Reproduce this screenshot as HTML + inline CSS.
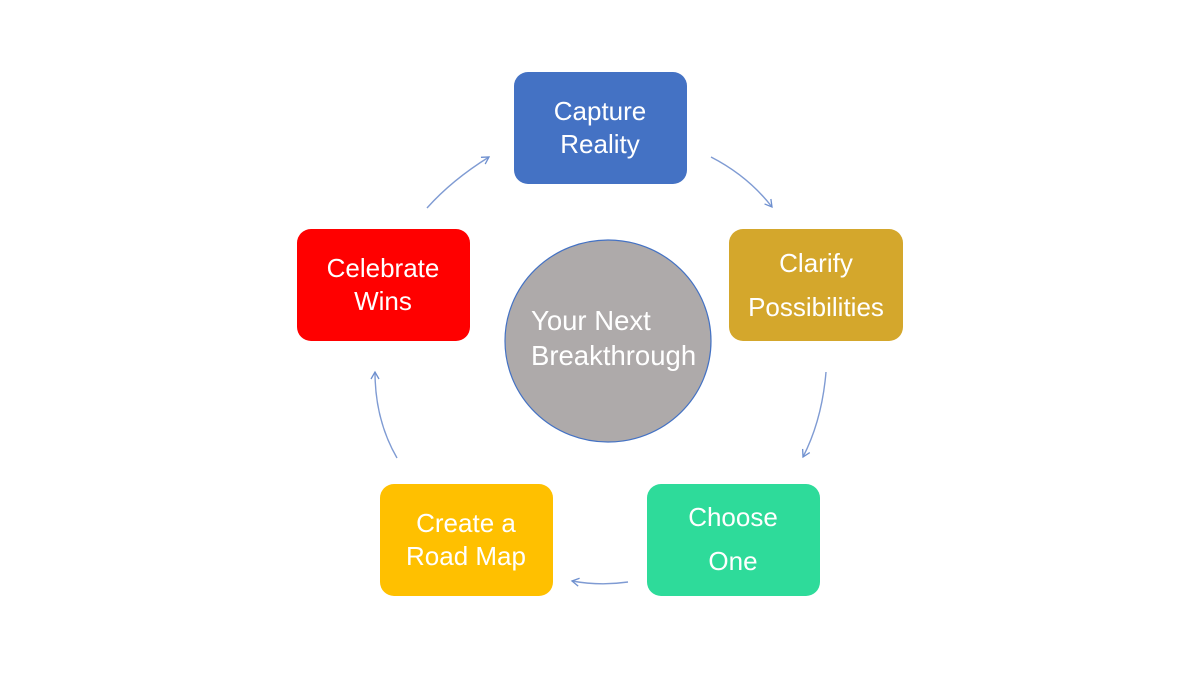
<!DOCTYPE html>
<html><head><style>
html,body{margin:0;padding:0;background:#fff;}
svg{display:block;}
text{font-family:"Liberation Sans",sans-serif;fill:#fff;font-size:26px;}
</style></head><body>
<svg width="1200" height="675" viewBox="0 0 1200 675" xmlns="http://www.w3.org/2000/svg">
<defs>
<marker id="a" markerWidth="10" markerHeight="10" refX="8" refY="5" orient="auto" markerUnits="userSpaceOnUse">
<path d="M1,1 L8,5 L1,9" fill="none" stroke="#6d8fcf" stroke-width="1.3"/>
</marker>
</defs>
<g fill="none" stroke="#7f9bd3" stroke-width="1.4" marker-end="url(#a)">
<path d="M711,157 Q748,176 772,207"/>
<path d="M826,372 Q822,420 803,457"/>
<path d="M628,582 Q600,586 572,581"/>
<path d="M397,458 Q375,420 375,372"/>
<path d="M427,208 Q452,180 489,157"/>
</g>
<rect x="514" y="72" width="173" height="112" rx="14" fill="#4472C4"/>
<text x="600" y="120" text-anchor="middle">Capture</text>
<text x="600" y="153" text-anchor="middle">Reality</text>
<rect x="729" y="229" width="174" height="112" rx="14" fill="#D4A72C"/>
<text x="816" y="272" text-anchor="middle">Clarify</text>
<text x="816" y="316" text-anchor="middle">Possibilities</text>
<rect x="647" y="484" width="173" height="112" rx="14" fill="#2EDB9A"/>
<text x="733" y="526" text-anchor="middle">Choose</text>
<text x="733" y="570" text-anchor="middle">One</text>
<rect x="380" y="484" width="173" height="112" rx="14" fill="#FFC000"/>
<text x="466" y="532" text-anchor="middle">Create a</text>
<text x="466" y="565" text-anchor="middle">Road Map</text>
<rect x="297" y="229" width="173" height="112" rx="14" fill="#FF0000"/>
<text x="383" y="277" text-anchor="middle">Celebrate</text>
<text x="383" y="310" text-anchor="middle">Wins</text>
<ellipse cx="608" cy="341" rx="103" ry="101" fill="#AEAAAA" stroke="#4472C4" stroke-width="1.2"/>
<text x="531" y="330" style="font-size:27.5px">Your Next</text>
<text x="531" y="365" style="font-size:27.5px">Breakthrough</text>
</svg>
</body></html>
